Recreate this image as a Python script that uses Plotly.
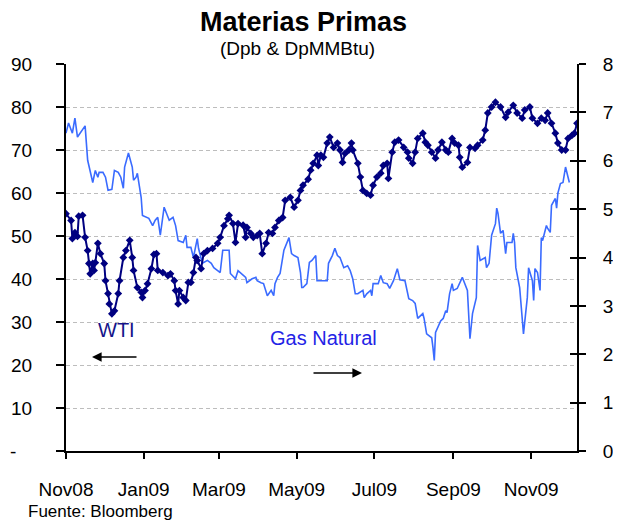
import plotly.graph_objs as go

# WTI (US$/barril), eje izquierdo
wti_fechas = ['2008-11-17', '2008-11-21', '2008-11-22', '2008-11-24', '2008-11-26', '2008-11-27', '2008-11-30',
              '2008-12-02', '2008-12-04', '2008-12-05', '2008-12-06', '2008-12-08', '2008-12-09', '2008-12-10',
              '2008-12-12', '2008-12-14', '2008-12-17', '2008-12-18', '2008-12-20', '2008-12-21', '2008-12-23',
              '2008-12-25', '2008-12-28', '2008-12-29', '2009-01-01', '2009-01-03', '2009-01-06', '2009-01-08',
              '2009-01-09', '2009-01-12', '2009-01-15', '2009-01-16', '2009-01-18', '2009-01-20', '2009-01-23',
              '2009-01-25', '2009-01-27', '2009-01-28', '2009-02-01', '2009-02-05', '2009-02-07', '2009-02-10',
              '2009-02-11', '2009-02-13', '2009-02-14', '2009-02-17', '2009-02-19', '2009-02-21', '2009-02-23',
              '2009-02-25', '2009-02-27', '2009-02-28', '2009-03-03', '2009-03-05', '2009-03-08', '2009-03-12',
              '2009-03-16', '2009-03-18', '2009-03-21', '2009-03-24', '2009-03-25', '2009-03-28', '2009-03-30',
              '2009-04-01', '2009-04-05', '2009-04-07', '2009-04-08', '2009-04-11', '2009-04-13', '2009-04-16',
              '2009-04-18', '2009-04-20', '2009-04-23', '2009-04-25', '2009-04-28', '2009-04-30', '2009-05-03',
              '2009-05-06', '2009-05-08', '2009-05-12', '2009-05-15', '2009-05-18', '2009-05-20', '2009-05-22',
              '2009-05-26', '2009-05-28', '2009-05-30', '2009-06-02', '2009-06-03', '2009-06-05', '2009-06-07',
              '2009-06-10', '2009-06-12', '2009-06-15', '2009-06-18', '2009-06-20', '2009-06-22', '2009-06-24',
              '2009-06-27', '2009-06-29', '2009-06-30', '2009-07-04', '2009-07-06', '2009-07-08', '2009-07-11',
              '2009-07-14', '2009-07-16', '2009-07-19', '2009-07-22', '2009-07-24', '2009-07-27', '2009-07-28',
              '2009-07-31', '2009-08-02', '2009-08-05', '2009-08-09', '2009-08-12', '2009-08-13', '2009-08-16',
              '2009-08-18', '2009-08-20', '2009-08-24', '2009-08-26', '2009-08-28', '2009-08-31', '2009-09-03',
              '2009-09-05', '2009-09-08', '2009-09-11', '2009-09-13', '2009-09-16', '2009-09-18', '2009-09-21',
              '2009-09-22', '2009-09-24', '2009-09-28', '2009-09-30', '2009-10-04', '2009-10-06', '2009-10-10',
              '2009-10-12', '2009-10-14', '2009-10-17', '2009-10-20', '2009-10-24', '2009-10-28', '2009-10-30',
              '2009-11-03', '2009-11-06', '2009-11-10', '2009-11-12', '2009-11-16', '2009-11-18', '2009-11-22',
              '2009-11-25', '2009-11-28', '2009-11-30', '2009-12-03', '2009-12-06', '2009-12-08', '2009-12-11',
              '2009-12-14', '2009-12-16', '2009-12-19', '2009-12-21', '2009-12-23']
wti = [55.2, 53.6, 49.4, 50.8, 49.9, 54.6, 54.8,
       49.7, 46.6, 43.6, 41.2, 43.6, 42.0, 43.8,
       48.3, 45.9, 43.6, 39.6, 36.6, 34.2, 31.9,
       32.6, 36.6, 39.6, 45.0, 46.6, 49.0, 45.0,
       42.0, 38.0, 36.9, 35.7, 37.3, 38.9, 42.4,
       45.7, 45.9, 42.0, 41.5, 40.8, 41.2, 39.6,
       37.3, 34.2, 37.3, 35.7, 35.0, 39.2, 39.2,
       41.5, 45.0, 44.3, 42.4, 45.9, 46.6, 47.1,
       48.3, 49.7, 52.4, 54.0, 54.8, 52.9, 48.5,
       52.9, 52.5, 49.7, 52.0, 50.6, 49.7, 50.1,
       50.6, 45.9, 48.3, 50.8, 50.6, 52.0, 53.6,
       54.3, 58.3, 59.0, 56.7, 58.3, 60.6, 61.8,
       63.2, 65.3, 66.9, 68.8, 66.4, 68.8, 68.3,
       71.6, 73.0, 70.6, 71.6, 70.0, 67.1, 69.2,
       70.0, 71.6, 70.0, 66.9, 63.7, 60.6, 59.9,
       59.5, 61.8, 63.7, 64.6, 66.4, 66.9, 63.4,
       69.5, 71.8, 72.3, 70.6, 69.5, 68.1, 66.9,
       69.5, 72.7, 73.9, 71.8, 71.1, 69.5, 68.1,
       70.0, 71.8, 70.0, 69.5, 72.7, 71.6, 71.1,
       68.3, 66.0, 67.1, 70.6, 70.4, 71.1, 72.3,
       74.6, 78.6, 80.0, 81.1, 80.0, 77.6, 78.8,
       80.4, 78.6, 77.4, 79.3, 80.0, 77.4, 76.2,
       77.4, 76.9, 78.6, 76.2, 73.9, 71.6, 70.0,
       70.0, 72.7, 73.4, 73.9, 76.2]

# Gas natural (US$/MMBtu), eje derecho
gas_fechas = ['2008-11-17', '2008-11-19', '2008-11-22', '2008-11-24', '2008-11-26', '2008-11-30', '2008-12-02',
              '2008-12-04', '2008-12-07', '2008-12-08', '2008-12-10', '2008-12-12', '2008-12-13', '2008-12-16',
              '2008-12-18', '2008-12-20', '2008-12-23', '2008-12-25', '2008-12-28', '2008-12-30', '2009-01-01',
              '2009-01-02', '2009-01-05', '2009-01-08', '2009-01-09', '2009-01-11', '2009-01-12', '2009-01-15',
              '2009-01-16', '2009-01-19', '2009-01-21', '2009-01-24', '2009-01-26', '2009-01-28', '2009-01-30',
              '2009-02-02', '2009-02-04', '2009-02-06', '2009-02-09', '2009-02-11', '2009-02-13', '2009-02-17',
              '2009-02-19', '2009-02-20', '2009-02-23', '2009-02-25', '2009-02-28', '2009-03-01', '2009-03-04',
              '2009-03-08', '2009-03-11', '2009-03-13', '2009-03-16', '2009-03-18', '2009-03-20', '2009-03-24',
              '2009-03-25', '2009-03-26', '2009-03-30', '2009-04-01', '2009-04-05', '2009-04-07', '2009-04-08',
              '2009-04-12', '2009-04-15', '2009-04-16', '2009-04-19', '2009-04-21', '2009-04-24', '2009-04-27',
              '2009-04-29', '2009-04-30', '2009-05-02', '2009-05-04', '2009-05-07', '2009-05-10', '2009-05-11',
              '2009-05-13', '2009-05-15', '2009-05-18', '2009-05-20', '2009-05-21', '2009-05-22', '2009-05-25',
              '2009-05-27', '2009-05-29', '2009-06-01', '2009-06-02', '2009-06-06', '2009-06-10', '2009-06-11',
              '2009-06-14', '2009-06-16', '2009-06-18', '2009-06-20', '2009-06-23', '2009-06-26', '2009-06-28',
              '2009-06-30', '2009-07-02', '2009-07-04', '2009-07-08', '2009-07-09', '2009-07-11', '2009-07-14',
              '2009-07-15', '2009-07-16', '2009-07-20', '2009-07-22', '2009-07-24', '2009-07-27', '2009-07-29',
              '2009-08-01', '2009-08-04', '2009-08-06', '2009-08-10', '2009-08-13', '2009-08-16', '2009-08-18',
              '2009-08-20', '2009-08-24', '2009-08-25', '2009-08-27', '2009-08-31', '2009-09-01', '2009-09-02',
              '2009-09-03', '2009-09-07', '2009-09-09', '2009-09-11', '2009-09-12', '2009-09-14', '2009-09-16',
              '2009-09-17', '2009-09-20', '2009-09-24', '2009-09-28', '2009-09-30', '2009-10-02', '2009-10-05',
              '2009-10-06', '2009-10-08', '2009-10-12', '2009-10-13', '2009-10-15', '2009-10-17', '2009-10-20',
              '2009-10-21', '2009-10-22', '2009-10-24', '2009-10-26', '2009-10-28', '2009-10-29', '2009-11-02',
              '2009-11-03', '2009-11-04', '2009-11-05', '2009-11-08', '2009-11-11', '2009-11-14', '2009-11-15',
              '2009-11-18', '2009-11-19', '2009-11-20', '2009-11-22', '2009-11-24', '2009-11-25', '2009-11-26',
              '2009-11-29', '2009-11-30', '2009-12-02', '2009-12-03', '2009-12-06', '2009-12-07', '2009-12-08',
              '2009-12-10', '2009-12-12', '2009-12-14', '2009-12-17']
gas = [6.57, 6.78, 6.57, 6.88, 6.49, 6.63, 6.72,
       6.01, 5.66, 5.55, 5.80, 5.66, 5.76, 5.76,
       5.66, 5.39, 5.41, 5.80, 5.76, 5.66, 5.43,
       5.87, 6.16, 5.87, 5.60, 5.66, 5.74, 5.24,
       4.87, 4.83, 4.81, 4.66, 4.77, 4.83, 4.46,
       5.04, 4.91, 4.77, 4.83, 4.66, 4.35, 4.31,
       4.46, 4.21, 4.21, 4.00, 4.39, 4.19, 3.88,
       3.94, 3.88, 3.79, 3.73, 3.69, 4.15, 4.15,
       4.15, 3.67, 3.56, 3.73, 3.63, 3.59, 3.48,
       3.56, 3.59, 3.52, 3.48, 3.46, 3.21, 3.32,
       3.21, 3.46, 3.59, 3.67, 4.15, 4.35, 4.41,
       4.08, 4.04, 4.00, 3.69, 3.38, 3.38, 3.46,
       3.90, 3.94, 4.04, 3.52, 3.52, 3.52, 3.88,
       4.04, 4.19, 4.04, 4.00, 3.79, 3.83, 3.73,
       3.56, 3.25, 3.25, 3.32, 3.17, 3.25, 3.32,
       3.21, 3.46, 3.46, 3.63, 3.48, 3.46, 3.36,
       3.52, 3.77, 3.54, 3.52, 3.15, 3.11, 3.05,
       2.74, 2.84, 2.74, 2.42, 2.34, 2.13, 1.87,
       2.45, 2.69, 2.74, 2.90, 2.86, 3.25, 3.46,
       3.32, 3.36, 3.59, 3.32, 2.32, 2.84, 3.17,
       4.25, 3.94, 4.00, 3.79, 3.88, 4.46, 4.70,
       5.02, 4.91, 4.50, 4.56, 4.08, 4.31, 4.31,
       4.50, 4.31, 3.79, 3.38, 2.42, 3.17, 3.79,
       3.52, 3.11, 3.77, 3.69, 3.32, 4.41, 4.35,
       4.66, 4.60, 4.52, 5.08, 5.22, 5.02, 5.33,
       5.53, 5.55, 5.87, 5.55]

meses = ['2008-11-17', '2009-01-17', '2009-03-17', '2009-05-17', '2009-07-17', '2009-09-17', '2009-11-17']
meses_txt = ['Nov08', 'Jan09', 'Mar09', 'May09', 'Jul09', 'Sep09', 'Nov09']
izq_ticks = [0, 10, 20, 30, 40, 50, 60, 70, 80, 90]
izq_txt = ['-\u00a0\u00a0\u00a0', '10', '20', '30', '40', '50', '60', '70', '80', '90']
der_ticks = [0, 1, 2, 3, 4, 5, 6, 7, 8]

fuente = 'Liberation Sans, Arial, sans-serif'
# la pagina deja 8px de margen en el body, por eso la figura es 8px mas chica
W, H = 613, 515
L, R, T, B = 58, 44, 56, 72


def px(x, y):  # pixel de la pagina -> paper
    return (x - 8 - L) / (W - L - R), (H - B - (y - 8)) / (H - T - B)


fig = go.Figure()
fig.add_trace(go.Scatter(x=gas_fechas, y=gas, yaxis='y', mode='lines',
                         line=dict(color='#3a6bff', width=1.6), name='Gas Natural'))
fig.add_trace(go.Scatter(x=wti_fechas, y=wti, yaxis='y2', mode='lines+markers',
                         line=dict(color='#000080', width=2),
                         marker=dict(symbol='diamond', size=6, color='#000080'), name='WTI'))
fig.add_trace(go.Scatter(x=[], y=[], yaxis='y3', showlegend=False))  # solo para las marcas internas del eje derecho

eje = dict(showline=True, linecolor='black', linewidth=2, tickcolor='black', tickwidth=1.5,
           tickfont=dict(size=19, color='black', family=fuente), zeroline=False, automargin=False)

fig.update_layout(
    width=W, height=H, margin=dict(l=L, r=R, t=T, b=B),
    plot_bgcolor='white', paper_bgcolor='white', showlegend=False,
    font=dict(family=fuente, color='black'),
    xaxis=dict(eje, type='date', range=['2008-11-17', '2009-12-23'], tickvals=meses, ticktext=meses_txt,
               ticks='outside', ticklen=6, showgrid=False, ticklabelstandoff=14),
    yaxis=dict(eje, side='right', range=[0, 8], tickvals=der_ticks, ticks='outside', ticklen=7,
               showgrid=False, ticklabelstandoff=13),
    yaxis2=dict(eje, side='left', overlaying='y', range=[0, 90], tickvals=izq_ticks, ticktext=izq_txt,
                ticks='outside', ticklen=8, showgrid=True, gridcolor='#bdbdbd', gridwidth=1,
                griddash='4px,3px', ticklabelstandoff=20),
    yaxis3=dict(side='right', overlaying='y', range=[0, 8], tickvals=der_ticks, ticks='inside', ticklen=7,
                tickcolor='black', tickwidth=1.5, showticklabels=False, showgrid=False, showline=False,
                zeroline=False, automargin=False),
)

anot = []
x, y = px(303, 22)
anot.append(dict(text='<b>Materias Primas</b>', x=x, y=y, font=dict(size=27)))
x, y = px(297, 48)
anot.append(dict(text='(Dpb & DpMMBtu)', x=x, y=y, font=dict(size=19)))
x, y = px(116, 330)
anot.append(dict(text='WTI', x=x, y=y, font=dict(size=20, color='#14148a')))
x, y = px(323, 338)
anot.append(dict(text='Gas Natural', x=x, y=y, font=dict(size=20, color='#2323e6')))
x, y = px(26, 511)
anot.append(dict(text='Fuente: Bloomberg', x=x, y=y, xanchor='left', font=dict(size=17)))
for a in anot:
    a.update(xref='paper', yref='paper', showarrow=False, yanchor='middle', xanchor=a.get('xanchor', 'center'))

# flechas
x, y = px(92, 357)
anot.append(dict(x=x, y=y, xref='paper', yref='paper', text='', showarrow=True, ax=46, ay=0,
                 arrowhead=2, arrowsize=1.2, arrowwidth=1.6, arrowcolor='black'))
x, y = px(362, 373)
anot.append(dict(x=x, y=y, xref='paper', yref='paper', text='', showarrow=True, ax=-50, ay=0,
                 arrowhead=2, arrowsize=1.2, arrowwidth=1.6, arrowcolor='black'))
fig.update_layout(annotations=anot)

fig.write_html("out.html")
